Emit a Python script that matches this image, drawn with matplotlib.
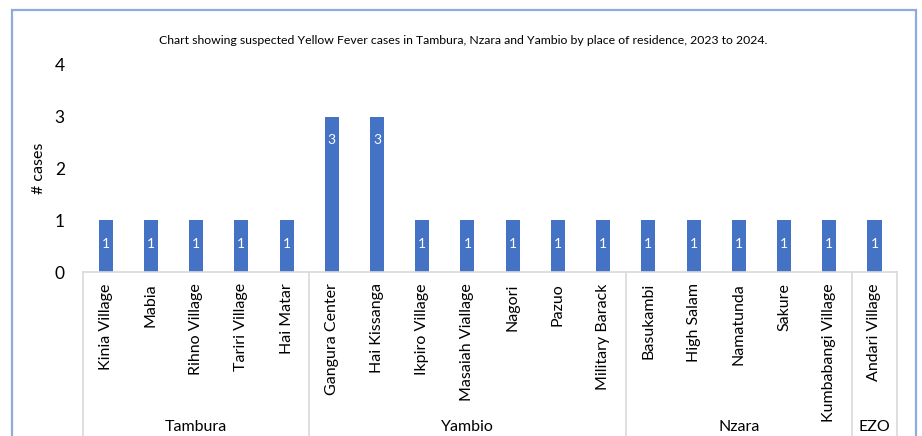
import matplotlib.pyplot as plt
from matplotlib.patches import Rectangle
from matplotlib.transforms import blended_transform_factory

plt.rcParams["font.family"] = ["Lato", "DejaVu Sans"]

places = [
    "Kinia Village", "Mabia", "Rihno Village", "Tariri Village", "Hai Matar",
    "Gangura Center", "Hai Kissanga", "Ikpiro Village", "Masaiah Viallage",
    "Nagori", "Pazuo", "Military Barack",
    "Basukambi", "High Salam", "Namatunda", "Sakure", "Kumbabangi Village",
    "Andari Village",
]
cases = [1, 1, 1, 1, 1, 3, 3, 1, 1, 1, 1, 1, 1, 1, 1, 1, 1, 1]
groups = ["Tambura", "Yambio", "Nzara", "EZO"]
group_sizes = [5, 7, 5, 1]

bar_color = "#4472C4"
line_color = "#D9D9D9"

fig = plt.figure(figsize=(9.22, 4.36), dpi=100)
ax = fig.add_axes([0.090, 0.376, 0.883, 0.475])

x = list(range(len(places)))
bars = ax.bar(x, cases, width=0.31, color=bar_color, zorder=2)
for b, v in zip(bars, cases):
    ax.annotate(str(v), (b.get_x() + b.get_width() / 2, v), xytext=(0, -17),
                textcoords="offset points", ha="center", va="center",
                color="white", fontsize=10)

ax.set_xlim(-0.5, len(places) - 0.5)
ax.set_ylim(0, 4)
ax.set_yticks([0, 1, 2, 3, 4])
ax.set_xticks(x)
ax.set_xticklabels(places, rotation=90, fontsize=11.5, va="top")
ax.tick_params(axis="x", length=0, pad=8)
ax.tick_params(axis="y", length=0, pad=13, labelsize=12.5)
for s in ["top", "right", "left"]:
    ax.spines[s].set_visible(False)
ax.spines["bottom"].set_color(line_color)
ax.spines["bottom"].set_linewidth(1.2)
ax.set_ylabel("# cases", fontsize=11.5)
ax.yaxis.set_label_coords(-0.046, 0.5)

# group separators and group names under the category labels
trans = blended_transform_factory(ax.transData, ax.transAxes)
name_trans = blended_transform_factory(ax.transData, fig.transFigure)
label_y = (436 - 420) / 436
edge = -0.5
for name, n in zip(groups, group_sizes):
    ax.plot([edge, edge], [0, -1.0], transform=trans, color=line_color,
            lw=1.2, clip_on=False)
    ax.text(edge + n / 2, label_y, name, transform=name_trans,
            ha="center", va="top", fontsize=11.5)
    edge += n
ax.plot([edge, edge], [0, -1.0], transform=trans, color=line_color,
        lw=1.2, clip_on=False)

fig.text(0.502, 0.908, "Chart showing suspected Yellow Fever cases in Tambura, Nzara and Yambio "
         "by place of residence, 2023 to 2024.", ha="center", va="center", fontsize=8.8)

# outer chart frame
fig.patches.append(Rectangle((11.5 / 922, -0.1), (916 - 11.5) / 922, 1.1 - 10 / 436,
                             transform=fig.transFigure, fill=False,
                             edgecolor="#8FAADC", lw=1.6))

fig.savefig("out.png", dpi=100)
